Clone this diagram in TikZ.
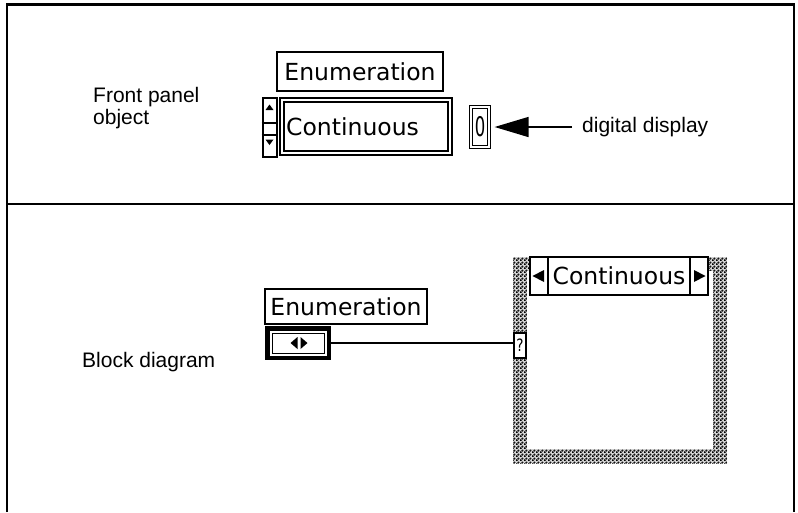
\documentclass[tikz,border=0pt]{standalone}
\usepackage{fontspec}
\setmainfont{Liberation Sans}
\newfontfamily\lvfont{DejaVu Sans}
\usepackage{graphicx}
\usepackage{tikz}
\usetikzlibrary{positioning,arrows.meta,patterns}
\pgfdeclarepatternformonly{chainmail}{\pgfpointorigin}{\pgfpoint{4pt}{4pt}}{\pgfpoint{4pt}{4pt}}{
  \pgfsetlinewidth{0.7pt}
  \pgfpathcircle{\pgfpoint{1pt}{1pt}}{0.9pt}
  \pgfpathcircle{\pgfpoint{3pt}{3pt}}{0.9pt}
  \pgfusepath{stroke}}

\begin{document}
\begin{tikzpicture}[x=1pt,y=-1pt,
                note/.style={font=\fontsize{21}{22.5}\selectfont, inner sep=0pt},
                lvfont/.style={font=\lvfont\fontsize{23.5}{25}\selectfont},
                lvbox/.style={draw, line width=1.5pt, fill=white, inner sep=0pt, lvfont}]
                \useasboundingbox (0,0) rectangle (798,512);
                \draw[line width=2.5pt] (7.2,512) -- (7.2,4.5) -- (794,4.5) -- (794,512);
                \draw[line width=2pt] (7.2,204) -- (794,204);
                % front panel
                \node[note, anchor=north west, align=left] (fptext) at (93,87) {Front panel\\object};
                \node[lvbox, minimum width=166, minimum height=39] (fplabel) at (360,71.5) {Enumeration};
                \node[draw, double, line width=1.4pt, double distance=2.5pt, minimum width=168, minimum height=53, inner sep=0pt] (fpctl) at (366,126.5) {};
                \node[lvfont, anchor=west, inner sep=0pt] (fpval) at (286,126.5) {Continuous};
                \node[draw, line width=2pt, minimum width=14, minimum height=59, inner sep=0pt] (spin) at (269.5,127) {};
                \draw[line width=2pt] (spin.west |- 0,123) -- (spin.east |- 0,123);
                \draw[line width=2pt] (spin.west |- 0,135) -- (spin.east |- 0,135);
                \fill (265.5,110) -- (269.5,104.5) -- (273.5,110) -- cycle;
                \fill (265.5,139.5) -- (269.5,145) -- (273.5,139.5) -- cycle;
                \node[draw, double, line width=1.2pt, double distance=1.5pt, minimum width=18, minimum height=40, inner sep=0pt, lvfont] (disp) at (480,127) {\scalebox{0.7}[1.15]{0}};
                \node[note, anchor=base west] (dlabel) at (582,132) {digital display};
                \draw[line width=1.5pt, -{Triangle[length=34pt,width=20pt]}, shorten <=10pt, shorten >=5pt] (dlabel.west |- disp.east) -- (disp.east);
                % block diagram
                \node[note, anchor=base west] (bdtext) at (82,367.5) {Block diagram};
                \node[lvbox, minimum width=162, minimum height=35] (bdlabel) at (346,306.5) {Enumeration};
                \node[fill=black, minimum width=66, minimum height=34, inner sep=0pt] (enumc) at (298,343) {};
                \node[fill=white, minimum width=57, minimum height=25, inner sep=0pt] (enumw) at (enumc) {};
                \node[draw, line width=1pt, minimum width=52, minimum height=20, inner sep=0pt] (enumin) at (enumc) {};
                \fill (297.5,337) -- (290.5,343) -- (297.5,349) -- cycle;
                \fill (300.5,337) -- (307.5,343) -- (300.5,349) -- cycle;
                \path[fill=gray!35] (513,257) rectangle (727,463);
                \path[pattern=chainmail] (513,257) rectangle (727,463);
                \fill[white] (527,271) rectangle (713,449);
                \node[draw, line width=1.2pt, fill=white, minimum width=178, minimum height=38, inner sep=0pt] (selbox) at (619,276) {};
                \draw[line width=1.2pt] (548,257) -- (548,295);
                \draw[line width=1.2pt] (690,257) -- (690,295);
                \fill (544,270) -- (532.5,276) -- (544,282) -- cycle;
                \fill (694,270) -- (705.5,276) -- (694,282) -- cycle;
                \node[lvfont, inner sep=0pt] (selval) at (619,276) {Continuous};
                \node[draw, fill=white, line width=1.2pt, minimum width=12, minimum height=25, inner sep=0pt, font=\lvfont\fontsize{17}{17}\selectfont] (sel) at (520,345.5) {\scalebox{0.8}[1]{?}};
                \draw[line width=1.5pt] (enumc.east) -- (enumc.east -| sel.west);
            \end{tikzpicture}
\end{document}
